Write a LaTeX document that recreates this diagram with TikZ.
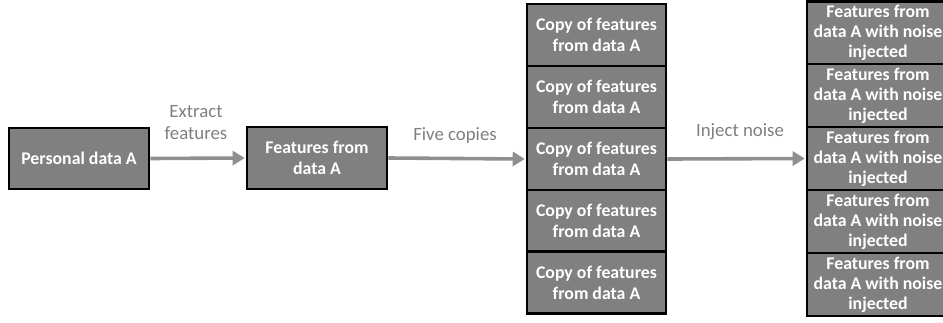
\documentclass[tikz,border=0pt]{standalone}
\usepackage{fontspec}
\setmainfont{Carlito}
\usetikzlibrary{arrows.meta}
\definecolor{boxgray}{HTML}{808080}
\definecolor{arrgray}{HTML}{8F8F8F}
\definecolor{labgray}{HTML}{7F7F7F}
\tikzset{
  databox/.style={draw=black, line width=2.6pt, fill=boxgray, text=white,
    font=\fontsize{17.8}{21}\selectfont\bfseries, align=center, inner sep=0pt},
  flow/.style={draw=arrgray, line width=3.6pt, -{Triangle[length=12pt,width=14pt]}, shorten >=1pt},
  flowlabel/.style={text=labgray, font=\fontsize{18.8}{22}\selectfont, align=center}
}
\begin{document}
\begin{tikzpicture}[x=1pt,y=-1pt]
\useasboundingbox (0,0) rectangle (943,322);
\begin{scope}
\clip (0,0) rectangle (943,322);
\node[databox, minimum width=140pt, minimum height=61pt] (pa) at (79,158.5) {Personal data A};
\node[databox, minimum width=140pt, minimum height=62pt] (fa) at (317,158) {Features from\\data A};
\foreach \i/\y in {1/35, 2/97, 3/159, 4/221, 5/282.5} {
  \node[databox, minimum width=139pt, minimum height=62pt] (c\i) at (596.5,\y) {Copy of features\\from data A};
}
\foreach \i/\y in {1/33, 2/95.5, 3/158.5, 4/221.5, 5/284.5} {
  \node[databox, minimum width=142pt, minimum height=63pt, font=\fontsize{17.8}{20}\selectfont\bfseries] (n\i) at (878,\y) {Features from\\data A with noise\\injected};
}
\draw[flow] (pa.east) -- (fa.west);
\draw[flow] (fa.east) -- (c3.west);
\draw[flow] (c3.east) -- (n3.west);
\node[flowlabel] (l1) at (196,123) {Extract\\features};
\node[flowlabel] (l2) at (455,136) {Five copies};
\node[flowlabel] (l3) at (740,132) {Inject noise};
\end{scope}
\end{tikzpicture}
\end{document}
